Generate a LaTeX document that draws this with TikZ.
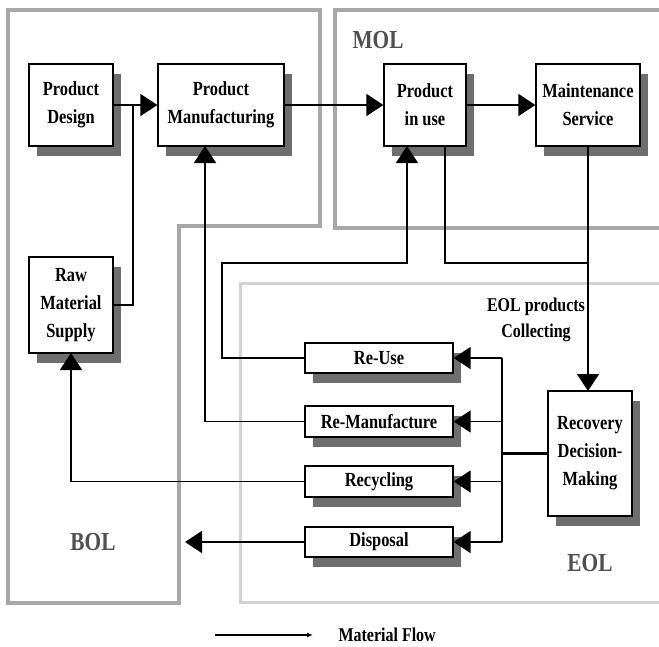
\documentclass[tikz,border=0pt]{standalone}
\usepackage{fontspec}
\setmainfont{Liberation Serif}[FakeStretch=0.82]
\usetikzlibrary{arrows.meta}
\definecolor{regiongray}{HTML}{A8A8A8}
\definecolor{eolgray}{HTML}{D2D2D2}
\definecolor{shadowgray}{HTML}{6E6E6E}
\definecolor{labelgray}{HTML}{505050}
\tikzset{
  box/.style={draw=black, line width=1.3pt, fill=white, align=center, inner sep=1pt,
    font=\fontsize{20}{28}\selectfont\bfseries},
  shadowed/.style={preaction={fill=shadowgray, transform canvas={shift={(8pt,-10pt)}}}},
  flow/.style={line width=1.5pt},
  arr/.style={flow, -{Triangle[length=17pt,width=22pt]}},
  region/.style={draw=regiongray, line width=4pt},
  eolregion/.style={draw=eolgray, line width=3pt},
  phase/.style={text=labelgray, font=\fontsize{26}{30}\selectfont\bfseries},
  note/.style={align=center, font=\fontsize{19.5}{26}\selectfont\bfseries}
}
\begin{document}
\begin{tikzpicture}[x=1pt, y=-1pt]
\useasboundingbox (0,0) rectangle (659,646);
% regions
\draw[region] (8,10) -- (320,10) -- (320,226) -- (179,226) -- (179,603) -- (8,603) -- cycle;
\draw[region] (665,10) -- (335,10) -- (335,228) -- (665,228);
\draw[eolregion] (665,283) -- (240,283) -- (240,602) -- (665,602);
% phase labels
\node[phase] (mol) at (378,40) {MOL};
\node[phase] (bol) at (93,542) {BOL};
\node[phase] (eol) at (590,563) {EOL};
% boxes
\node[box, shadowed, minimum width=84pt, minimum height=82pt] (pd) at (71,105) {Product\\Design};
\node[box, shadowed, minimum width=126pt, minimum height=82pt] (pm) at (221,105) {Product\\Manufacturing};
\node[box, shadowed, minimum width=82pt, minimum height=82pt] (pu) at (425,105) {Product\\in use};
\node[box, shadowed, minimum width=104pt, minimum height=82pt] (ms) at (588,105) {Maintenance\\Service};
\node[box, shadowed, minimum width=84pt, minimum height=96pt] (rms) at (71,305) {Raw\\Material\\Supply};
\node[box, shadowed, minimum width=148pt, minimum height=30pt] (reuse) at (379,358) {Re-Use};
\node[box, shadowed, minimum width=148pt, minimum height=31pt] (reman) at (379,421.5) {Re-Manufacture};
\node[box, shadowed, minimum width=148pt, minimum height=31pt] (recyc) at (379,481.5) {Recycling};
\node[box, shadowed, minimum width=148pt, minimum height=30pt] (disp) at (379,542) {Disposal};
\node[box, shadowed, minimum width=84pt, minimum height=125pt] (rdm) at (590,453.5) {Recovery\\Decision-\\Making};
\node[note] (collect) at (536,320) {EOL products\\Collecting};
% helper coordinates
\coordinate (j1) at (133,105);
\coordinate (puout) at (445,146);
\coordinate (j2) at (588,263);
\coordinate (ruA) at (222,263);
\coordinate (ruB) at (407,263);
\coordinate (puin) at (407,146);
\coordinate (pmin) at (205,146);
\coordinate (rmsin) at (71,353);
\coordinate (dispend) at (185,542);
\coordinate (hub) at (502,453.5);
\coordinate (hubtop) at (502,358);
\coordinate (hubbot) at (502,542);
\coordinate (msout) at (588,146);
\coordinate (rdmin) at (588,391);
% flows
\draw[arr] (pd) -- (pm);
\draw[flow] (rms.east) -| (j1);
\draw[arr] (pm) -- (pu);
\draw[arr] (pu) -- (ms);
\draw[flow] (puout) |- (j2);
\draw[arr] (msout) -- (rdmin);
\draw[arr] (reuse.west) -| (ruA) -- (ruB) -- (puin);
\draw[arr] (reman.west) -| (pmin);
\draw[arr] (recyc.west) -| (rmsin);
\draw[arr] (disp.west) -- (dispend);
\draw[line width=3pt] (rdm.west) -- (hub);
\draw[line width=2pt] (hubtop) -- (hubbot);
\draw[arr] (hubtop) -- (reuse.east);
\draw[arr] (hubtop |- reman.east) -- (reman.east);
\draw[arr] (hubtop |- recyc.east) -- (recyc.east);
\draw[arr] (hubbot) -- (disp.east);
% legend
\coordinate (lgA) at (215,635);
\coordinate (lgB) at (313,635);
\draw[flow, -{Latex[length=6pt,width=5pt]}] (lgA) -- (lgB);
\node[note, anchor=west] (lgtext) at (335,635) {Material Flow};
\end{tikzpicture}
\end{document}
